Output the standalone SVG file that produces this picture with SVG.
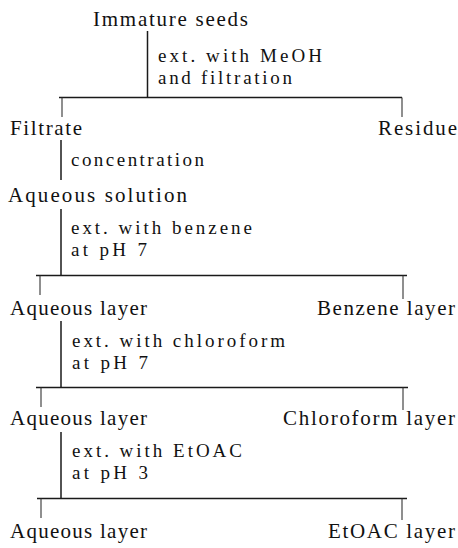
<svg xmlns="http://www.w3.org/2000/svg" width="458" height="548" viewBox="0 0 458 548">
<style>
  text { font-family: "Liberation Serif", "Times New Roman", serif; font-size: 21px; fill: #111; }
  .lb { font-size: 19px; }
  .ln { stroke: #1a1a1a; stroke-width: 1.5; fill: none; }
  .tk { stroke: #333; stroke-width: 1.1; fill: none; }
</style>
<rect width="458" height="548" fill="#ffffff"/>
<g id="connectors">
  <line class="ln" x1="147.5" y1="31" x2="147.5" y2="97"/>
  <line class="ln" x1="59" y1="97.5" x2="402" y2="97.5"/>
  <line class="tk" x1="62" y1="97.5" x2="62" y2="117"/>
  <line class="tk" x1="402" y1="97.5" x2="402" y2="117"/>
  <line class="ln" x1="61" y1="140" x2="61" y2="180"/>
  <line class="ln" x1="61" y1="209" x2="61" y2="275"/>
  <line class="ln" x1="36" y1="275.5" x2="407" y2="275.5"/>
  <line class="tk" x1="40" y1="275.5" x2="40" y2="295"/>
  <line class="tk" x1="403" y1="275.5" x2="403" y2="299"/>
  <line class="ln" x1="61" y1="321" x2="61" y2="387"/>
  <line class="ln" x1="36" y1="387.5" x2="408" y2="387.5"/>
  <line class="tk" x1="41" y1="387.5" x2="41" y2="407"/>
  <line class="tk" x1="403" y1="387.5" x2="403" y2="410"/>
  <line class="ln" x1="61" y1="432" x2="61" y2="498"/>
  <line class="ln" x1="37" y1="498.5" x2="407" y2="498.5"/>
  <line class="tk" x1="41" y1="498.5" x2="41" y2="518"/>
  <line class="tk" x1="402" y1="498.5" x2="402" y2="520"/>
  <g id="edge-labels">
    <text class="lb" x="158" y="62" textLength="164" lengthAdjust="spacing">ext. with MeOH</text>
    <text class="lb" x="158" y="84" textLength="134" lengthAdjust="spacing">and filtration</text>
    <text class="lb" x="71" y="166" textLength="133" lengthAdjust="spacing">concentration</text>
    <text class="lb" x="71" y="234" textLength="181" lengthAdjust="spacing">ext. with benzene</text>
    <text class="lb" x="71" y="256" textLength="76" lengthAdjust="spacing">at pH 7</text>
    <text class="lb" x="72" y="347" textLength="213" lengthAdjust="spacing">ext. with chloroform</text>
    <text class="lb" x="72" y="369" textLength="76" lengthAdjust="spacing">at pH 7</text>
    <text class="lb" x="72" y="457" textLength="170" lengthAdjust="spacing">ext. with EtOAC</text>
    <text class="lb" x="72" y="479" textLength="76" lengthAdjust="spacing">at pH 3</text>
  </g>
</g>
<g id="immature-seeds"><text x="93" y="26" textLength="155" lengthAdjust="spacing">Immature seeds</text></g>
<g id="filtrate"><text x="10" y="135" textLength="72" lengthAdjust="spacing">Filtrate</text></g>
<g id="residue"><text x="378" y="135" textLength="79" lengthAdjust="spacing">Residue</text></g>
<g id="aqueous-solution"><text x="8" y="202" textLength="179" lengthAdjust="spacing">Aqueous solution</text></g>
<g id="aqueous-layer-1"><text x="10" y="315" textLength="137" lengthAdjust="spacing">Aqueous layer</text></g>
<g id="benzene-layer"><text x="317" y="315" textLength="138" lengthAdjust="spacing">Benzene layer</text></g>
<g id="aqueous-layer-2"><text x="10" y="425" textLength="137" lengthAdjust="spacing">Aqueous layer</text></g>
<g id="chloroform-layer"><text x="283" y="425" textLength="172" lengthAdjust="spacing">Chloroform layer</text></g>
<g id="aqueous-layer-3"><text x="10" y="538" textLength="137" lengthAdjust="spacing">Aqueous layer</text></g>
<g id="etoac-layer"><text x="328" y="538" textLength="127" lengthAdjust="spacing">EtOAC layer</text></g>
</svg>
